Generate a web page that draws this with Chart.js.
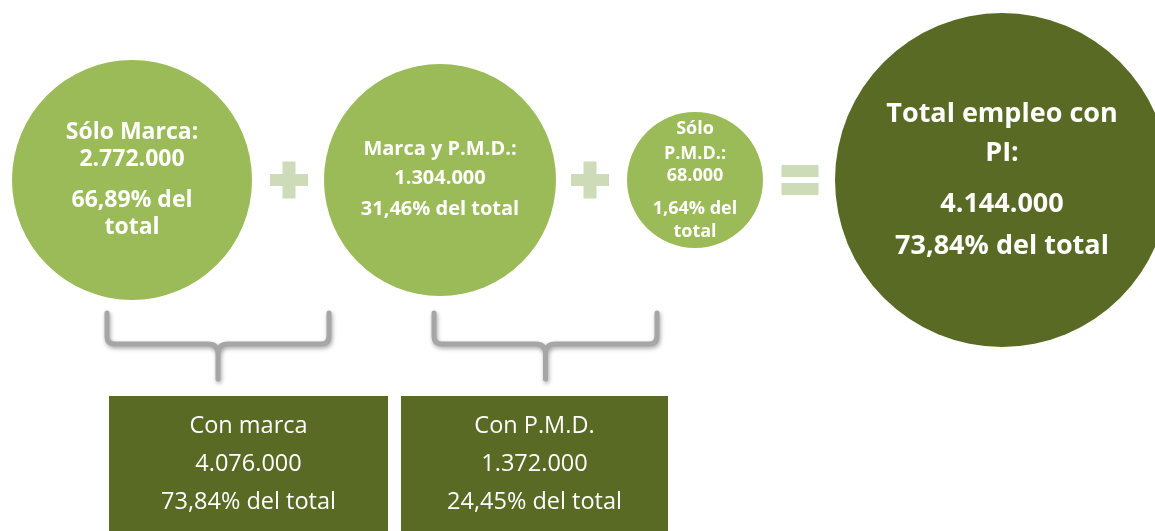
<!DOCTYPE html>
<html>
<head>
<meta charset="utf-8">
<script src="https://cdn.jsdelivr.net/npm/chart.js@4.4.1/dist/chart.umd.min.js"></script>
<style>
  body { margin: 0; background: #fff; }
  #wrap { width: 1155px; height: 531px; }
</style>
</head>
<body>
<div id="wrap"><canvas id="chart" width="1155" height="531"></canvas></div>
<script>
// employment figures
var labels = ['Sólo Marca', 'Marca y P.M.D.', 'Sólo P.M.D.', 'Total empleo con PI'];
var employment = [2772000, 1304000, 68000, 4144000];
var shares = [66.89, 31.46, 1.64, 73.84];

var groupLabels = ['Con marca', 'Con P.M.D.'];
var groupEmployment = [4076000, 1372000];
var groupShares = [73.84, 24.45];

// layout (not data)
var bubbleX = [132, 440, 695, 1002];
var bubbleY = [180, 180, 180, 180];
var bubbleR = [120, 116, 68, 167];
var bubbleColors = ['#9bbb59', '#9bbb59', '#9bbb59', '#586a23'];
var boxX = [[109, 388], [401, 668]];
var boxY = [396, 540];
var textFont = '"Open Sans", Lato, sans-serif';

var ctx = document.getElementById('chart');

// bubbles may run off the edge, don't let chart.js shrink the area for them
Chart.registry.getController('bubble').prototype.getMaxOverflow = function(){ return 0; };

function fmtNum(n){
    return String(n).replace(/\B(?=(\d{3})+(?!\d))/g, '.');
}
function fmtPct(p){
    return p.toFixed(2).replace('.', ',') + '%';
}

// text in each circle as it wraps in the original, [text, offset of line from centre]
var circleText = [
    { size: 23, lines: [[labels[0] + ':', -49], [fmtNum(employment[0]), -22], [fmtPct(shares[0]) + ' del', 19], ['total', 46]] },
    { size: 20, lines: [[labels[1] + ':', -32], [fmtNum(employment[1]), -3], [fmtPct(shares[1]) + ' del total', 28]] },
    { size: 18, lines: [['Sólo', -52], ['P.M.D.:', -27], [fmtNum(employment[2]), -5], [fmtPct(shares[2]) + ' del', 28], ['total', 51]] },
    { size: 27, lines: [['Total empleo con', -68], ['PI:', -29], [fmtNum(employment[3]), 22], [fmtPct(shares[3]) + ' del total', 64]] }
];

var overlay = {
    id: 'overlay',
    afterDatasetsDraw: function(chart){
        var c = chart.ctx;
        var xs = chart.scales.x, ys = chart.scales.y;
        var X = function(v){ return xs.getPixelForValue(v); };
        var Y = function(v){ return ys.getPixelForValue(v); };

        // circle texts (offsets are cap-height centres)
        c.save();
        c.fillStyle = '#ffffff';
        c.textAlign = 'center';
        c.textBaseline = 'alphabetic';
        circleText.forEach(function(t, i){
            c.font = 'bold ' + t.size + 'px ' + textFont;
            t.lines.forEach(function(l){
                c.fillText(l[0], X(bubbleX[i]), Y(bubbleY[i] + l[1]) + t.size * 0.357);
            });
        });
        c.restore();

        // plus and equal signs
        c.save();
        c.fillStyle = '#cddbb8';
        [289, 590].forEach(function(px){
            var cx = X(px), cy = Y(180);
            c.fillRect(cx - 19, cy - 6, 38, 12);
            c.fillRect(cx - 6.5, cy - 18.5, 13, 37);
        });
        var ex = X(800), ey = Y(180);
        c.fillRect(ex - 18.5, ey - 15, 37, 12);
        c.fillRect(ex - 18.5, ey + 3, 37, 12);
        c.restore();

        // braces
        c.save();
        c.strokeStyle = '#a6a6a6';
        c.lineWidth = 5;
        c.lineCap = 'round';
        c.lineJoin = 'round';
        c.shadowColor = 'rgba(0,0,0,0.35)';
        c.shadowBlur = 4;
        c.shadowOffsetX = 1;
        c.shadowOffsetY = 2;
        [[107, 329], [434, 657]].forEach(function(b){
            var l = X(b[0]), r = X(b[1]), m = (l + r) / 2;
            var top = Y(313), mid = Y(344), bot = Y(379);
            c.beginPath();
            c.moveTo(l, top);
            c.lineTo(l, mid - 8);
            c.quadraticCurveTo(l, mid, l + 8, mid);
            c.lineTo(m - 10, mid);
            c.quadraticCurveTo(m, mid, m, mid + 10);
            c.lineTo(m, bot);
            c.moveTo(m, mid + 10);
            c.quadraticCurveTo(m, mid, m + 10, mid);
            c.lineTo(r - 8, mid);
            c.quadraticCurveTo(r, mid, r, mid - 8);
            c.lineTo(r, top);
            c.stroke();
        });
        c.restore();

        // boxes underneath
        c.save();
        boxX.forEach(function(b, i){
            var l = X(b[0]), r = X(b[1]);
            c.fillStyle = '#586a23';
            c.fillRect(l, Y(boxY[0]), r - l, Y(boxY[1]) - Y(boxY[0]));
            c.fillStyle = '#ffffff';
            c.textAlign = 'center';
            c.textBaseline = 'alphabetic';
            c.font = '23.5px ' + textFont;
            var cx = (l + r) / 2, d = 23.5 * 0.357;
            c.fillText(groupLabels[i], cx, Y(425) + d);
            c.fillText(fmtNum(groupEmployment[i]), cx, Y(463) + d);
            c.fillText(fmtPct(groupShares[i]) + ' del total', cx, Y(501) + d);
        });
        c.restore();
    }
};

var chart = new Chart(ctx, {
    type: 'bubble',
    data: {
        labels: labels,
        datasets: [{
            data: employment.map(function(v, i){
                return { x: bubbleX[i], y: bubbleY[i], r: bubbleR[i], v: v };
            }),
            backgroundColor: bubbleColors,
            borderWidth: 0,
            hoverRadius: 0,
            clip: false
        }]
    },
    options: {
        responsive: false,
        animation: false,
        layout: { padding: 0 },
        plugins: { legend: { display: false }, tooltip: { enabled: false } },
        scales: {
            x: { type: 'linear', display: false, min: 0, max: 1155 },
            y: { type: 'linear', display: false, min: 0, max: 531, reverse: true }
        }
    },
    plugins: [overlay]
});
</script>
</body>
</html>
